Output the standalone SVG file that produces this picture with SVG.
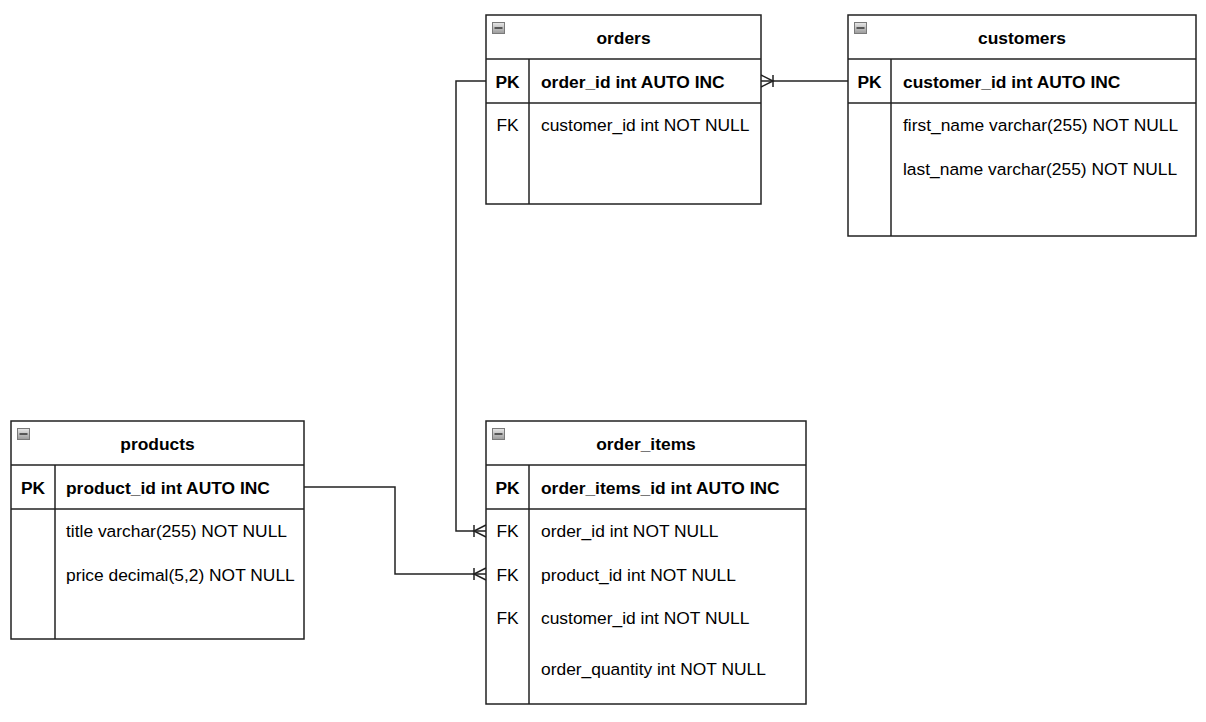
<svg xmlns="http://www.w3.org/2000/svg" width="1206" height="722" viewBox="0 0 1206 722">
  <defs>
    <linearGradient id="iconFill" x1="0" y1="0" x2="0" y2="1">
      <stop offset="0" stop-color="#e8e8e8"/>
      <stop offset="1" stop-color="#9a9a9a"/>
    </linearGradient>
    <!-- collapse toggle shown in each table header -->
    <g id="collapse">
      <rect x="0.5" y="0.5" width="12" height="11" fill="url(#iconFill)" stroke="#7a7a7a" stroke-width="1"/>
      <line x1="2.5" y1="6" x2="10.5" y2="6" stroke="#333" stroke-width="1.5"/>
    </g>
    <!-- one-and-many end: crow's foot opening toward the table, bar behind it -->
    <g id="manyEnd">
      <path d="M0,-6 L-12,0 L0,6" fill="none" stroke="#222" stroke-width="1.5"/>
      <line x1="-12" y1="-6" x2="-12" y2="6" stroke="#222" stroke-width="1.5"/>
    </g>
  </defs>
  <style>
    .box { fill: #ffffff; stroke: #222; stroke-width: 1.5; }
    .sep { stroke: #222; stroke-width: 1.5; fill: none; }
    .txt { font-family: "Liberation Sans", Arial, sans-serif; font-size: 17.4px; fill: #000; }
    .b { font-weight: bold; }
    .mid { text-anchor: middle; }
    .edge { fill: none; stroke: #222; stroke-width: 1.5; }
  </style>
  <rect width="1206" height="722" fill="#ffffff"/>

  <!-- relationships -->
  <g id="connectors">
    <path class="edge" d="M848,81 L761,81"/>
    <use href="#manyEnd" transform="translate(761,81) rotate(180)"/>
    <path class="edge" d="M486,81 L456,81 L456,531 L486,531"/>
    <use href="#manyEnd" transform="translate(486,531)"/>
    <path class="edge" d="M304,487 L395,487 L395,574 L486,574"/>
    <use href="#manyEnd" transform="translate(486,574)"/>
  </g>

  <!-- orders -->
  <g id="orders">
    <rect class="box" x="486" y="15" width="275" height="189"/>
    <line class="sep" x1="486" y1="59" x2="761" y2="59"/>
    <line class="sep" x1="486" y1="103" x2="761" y2="103"/>
    <line class="sep" x1="529" y1="59" x2="529" y2="204"/>
    <use href="#collapse" x="492" y="22"/>
    <text class="txt b mid" x="623.5" y="44">orders</text>
    <text class="txt b mid" x="507.5" y="88">PK</text>
    <text class="txt b" x="541" y="88">order_id int AUTO INC</text>
    <text class="txt mid" x="507.5" y="131">FK</text>
    <text class="txt" x="541" y="131">customer_id int NOT NULL</text>
  </g>

  <!-- customers -->
  <g id="customers">
    <rect class="box" x="848" y="15" width="348" height="221"/>
    <line class="sep" x1="848" y1="59" x2="1196" y2="59"/>
    <line class="sep" x1="848" y1="103" x2="1196" y2="103"/>
    <line class="sep" x1="891" y1="59" x2="891" y2="236"/>
    <use href="#collapse" x="854" y="22"/>
    <text class="txt b mid" x="1022" y="44">customers</text>
    <text class="txt b mid" x="869.5" y="88">PK</text>
    <text class="txt b" x="903" y="88">customer_id int AUTO INC</text>
    <text class="txt" x="903" y="131">first_name varchar(255) NOT NULL</text>
    <text class="txt" x="903" y="175">last_name varchar(255) NOT NULL</text>
  </g>

  <!-- products -->
  <g id="products">
    <rect class="box" x="11" y="421" width="293" height="218"/>
    <line class="sep" x1="11" y1="465" x2="304" y2="465"/>
    <line class="sep" x1="11" y1="509" x2="304" y2="509"/>
    <line class="sep" x1="55" y1="465" x2="55" y2="639"/>
    <use href="#collapse" x="17" y="428"/>
    <text class="txt b mid" x="157.5" y="450">products</text>
    <text class="txt b mid" x="33" y="494">PK</text>
    <text class="txt b" x="66" y="494">product_id int AUTO INC</text>
    <text class="txt" x="66" y="537">title varchar(255) NOT NULL</text>
    <text class="txt" x="66" y="581">price decimal(5,2) NOT NULL</text>
  </g>

  <!-- order_items -->
  <g id="order_items">
    <rect class="box" x="486" y="421" width="320" height="283"/>
    <line class="sep" x1="486" y1="465" x2="806" y2="465"/>
    <line class="sep" x1="486" y1="509" x2="806" y2="509"/>
    <line class="sep" x1="529" y1="465" x2="529" y2="704"/>
    <use href="#collapse" x="492" y="428"/>
    <text class="txt b mid" x="646" y="450">order_items</text>
    <text class="txt b mid" x="507.5" y="494">PK</text>
    <text class="txt b" x="541" y="494">order_items_id int AUTO INC</text>
    <text class="txt mid" x="507.5" y="537">FK</text>
    <text class="txt" x="541" y="537">order_id int NOT NULL</text>
    <text class="txt mid" x="507.5" y="581">FK</text>
    <text class="txt" x="541" y="581">product_id int NOT NULL</text>
    <text class="txt mid" x="507.5" y="624">FK</text>
    <text class="txt" x="541" y="624">customer_id int NOT NULL</text>
    <text class="txt" x="541" y="675">order_quantity int NOT NULL</text>
  </g>
</svg>
